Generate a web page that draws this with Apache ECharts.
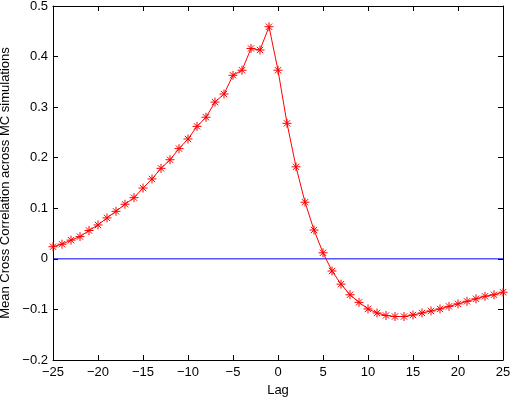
<!DOCTYPE html>
<html><head><meta charset="utf-8">
<script src="https://cdn.jsdelivr.net/npm/echarts@6/dist/echarts.min.js"></script>
<style>html,body{margin:0;padding:0;background:#fff}#c{width:511px;height:400px}</style>
</head><body><div id="c"></div>
<script>
const lags = [-25,-24,-23,-22,-21,-20,-19,-18,-17,-16,-15,-14,-13,-12,-11,-10,-9,-8,-7,-6,-5,-4,-3,-2,-1,0,1,2,3,4,5,6,7,8,9,10,11,12,13,14,15,16,17,18,19,20,21,22,23,24,25];
const meanCorr = [0.024,0.029,0.037,0.044,0.056,0.067,0.081,0.094,0.108,0.121,0.140,0.158,0.179,0.196,0.218,0.237,0.262,0.280,0.310,0.326,0.363,0.373,0.416,0.413,0.459,
  0.373,0.268,0.182,0.112,0.057,0.012,-0.024,-0.050,-0.071,-0.086,-0.099,-0.107,-0.112,-0.114,-0.114,-0.111,-0.107,-0.103,-0.099,-0.094,-0.089,-0.084,-0.079,-0.074,-0.071,-0.066];
const zeroLine = [[-25,0],[25,0]];
const xTitle = 'Lag';
const yTitle = 'Mean Cross Correlation across MC simulations';

const fmt = v => { const s = Math.abs(v) < 1e-9 ? '0' : (Number.isInteger(v) ? String(v) : v.toFixed(1)); return s.replace('-', '\u2212'); };
const font = 'Liberation Sans, Arial, sans-serif';
const axisCommon = () => ({
  axisLine:{show:true,onZero:false,lineStyle:{color:'#000',width:1}},
  axisTick:{show:true,inside:true,length:5,lineStyle:{color:'#000'}},
  splitLine:{show:false}
});
const chart = echarts.init(document.getElementById('c'));
chart.setOption({
  animation:false,
  backgroundColor:'#fff',
  grid:{left:53,right:8,top:6,bottom:40,containLabel:false,outerBoundsMode:'none'},
  xAxis:[
    Object.assign({type:'value',min:-25,max:25,interval:5,position:'bottom',
      name:xTitle,nameLocation:'middle',nameGap:24,nameTextStyle:{color:'#000',fontSize:13,fontFamily:font},
      axisLabel:{color:'#000',fontSize:13,fontFamily:font,margin:6,formatter:fmt}},axisCommon()),
    Object.assign({type:'value',min:-25,max:25,interval:5,position:'top',axisLabel:{show:false}},axisCommon())
  ],
  yAxis:[
    Object.assign({type:'value',min:-0.2,max:0.5,interval:0.1,position:'left',
      name:yTitle,nameLocation:'middle',nameGap:37,nameRotate:90,nameTextStyle:{color:'#000',fontSize:13,fontFamily:font},
      axisLabel:{color:'#000',fontSize:13,fontFamily:font,margin:5,formatter:fmt}},axisCommon()),
    Object.assign({type:'value',min:-0.2,max:0.5,interval:0.1,position:'right',axisLabel:{show:false}},axisCommon())
  ],
  series:[
    {type:'line',data:zeroLine,symbol:'none',lineStyle:{color:'#0000ff',width:1},itemStyle:{color:'#0000ff'},silent:true,z:3},
    {type:'line',data:lags.map((x,i)=>[x,meanCorr[i]]),
      symbol:'path://M0,5L10,5M5,0L5,10M1.5,1.5L8.5,8.5M8.5,1.5L1.5,8.5',symbolSize:9,
      itemStyle:{color:'#ff0000',borderColor:'#ff0000',borderWidth:1},
      lineStyle:{color:'#ff0000',width:1},z:4}
  ]
});
</script></body></html>
